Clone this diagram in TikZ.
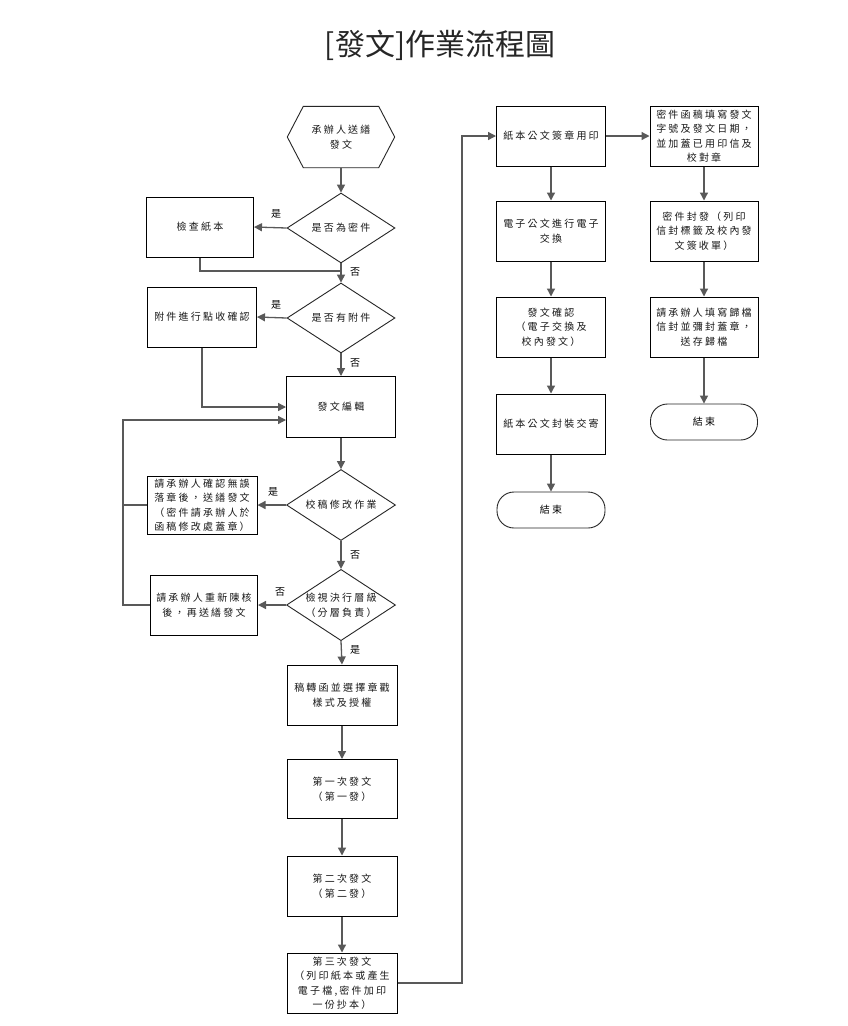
\documentclass[tikz,border=0pt]{standalone}
\usepackage{fontspec}
\usetikzlibrary{arrows.meta,shapes.geometric}
\newfontfamily\cjk[LetterSpace=22]{Noto Sans CJK TC}
\newfontfamily\cjklab{Noto Sans CJK TC}
\newfontfamily\titlefont{Noto Sans CJK TC}
\definecolor{conn}{HTML}{595959}
\tikzset{
  box/.style={draw=black, line width=1pt, minimum width=109pt, minimum height=60pt, inner sep=0pt, align=center, font=\cjk\fontsize{10}{14.5}\selectfont, text=black!90},
  dec/.style={diamond, draw=black!85, line width=0.9pt, minimum width=108pt, minimum height=70pt, inner sep=0pt, aspect=1.5, align=center, font=\cjk\fontsize{10}{14.5}\selectfont, text=black!90},
  term/.style={draw=black!85, line width=0.9pt, rounded corners=17pt, minimum width=108pt, minimum height=36pt, inner sep=0pt, font=\cjk\fontsize{10}{14.5}\selectfont},
  plain/.style={inner sep=0pt, minimum width=107pt, minimum height=61pt, align=center, font=\cjk\fontsize{10}{14.5}\selectfont, text=black!90},
  arr/.style={draw=conn, line width=1.3pt, -{Triangle[length=8pt,width=8pt]}},
  ln/.style={draw=conn, line width=1.3pt},
  lab/.style={font=\cjklab\fontsize{10}{12}\selectfont, inner sep=0pt}
}
\begin{document}
\begin{tikzpicture}[x=1pt,y=-1pt]
\useasboundingbox[fill=white] (0,0) rectangle (847,1026);
\node[font=\titlefont\fontsize{30}{33}\selectfont, text=black!85] (title) at (440,45) {[發文]作業流程圖};

% left column
\node[plain] (n1) at (341,137) {承辦人送繕\\發文};
\draw[black!85, line width=0.9pt] (n1.west) -- ([xshift=16pt]n1.north west) -- ([xshift=-16pt]n1.north east) -- (n1.east) -- ([xshift=-16pt]n1.south east) -- ([xshift=16pt]n1.south west) -- cycle;
\node[dec] (d1) at (341,228) {是否為密件};
\node[box, minimum width=107pt] (b1) at (200,227) {檢查紙本};
\node[dec] (d2) at (341,318) {是否有附件};
\node[box] (b2) at (202,317) {附件進行點收確認};
\node[box, minimum height=61pt] (b3) at (341,407) {發文編輯};
\node[dec, minimum width=109pt, minimum height=71pt] (d3) at (341,505) {校稿修改作業};
\node[box, minimum width=110pt, minimum height=58pt] (b4) at (202,505) {請承辦人確認無誤\\落章後，送繕發文\\（密件請承辦人於\\函稿修改處蓋章）};
\node[dec, minimum width=109pt, minimum height=69pt] (d4) at (341,605) {檢視決行層級\\（分層負責）};
\node[box, minimum width=107pt] (b5) at (204,605) {請承辦人重新陳核\\後，再送繕發文};
\node[box, minimum width=110pt] (b6) at (342,695) {稿轉函並選擇章戳\\樣式及授權};
\node[box, minimum width=110pt, minimum height=59pt] (b7) at (342,789) {第一次發文\\（第一發）};
\node[box, minimum width=110pt] (b8) at (342,886) {第二次發文\\（第二發）};
\node[box, minimum width=110pt] (b9) at (342,983) {第三次發文\\（列印紙本或產生\\電子檔,密件加印\\一份抄本）};

% middle column
\node[box] (m1) at (551,136) {紙本公文簽章用印};
\node[box] (m2) at (551,231) {電子公文進行電子\\交換};
\node[box] (m3) at (551,327) {發文確認\\（電子交換及\\校內發文）};
\node[box] (m4) at (551,424) {紙本公文封裝交寄};
\node[term] (m5) at (551,510) {結束};

% right column
\node[box, minimum width=108pt] (r1) at (704,136) {密件函稿填寫發文\\字號及發文日期，\\並加蓋已用印信及\\校對章};
\node[box, minimum width=108pt] (r2) at (704,231) {密件封發（列印\\信封標籤及校內發\\文簽收單）};
\node[box, minimum width=108pt] (r3) at (704,327) {請承辦人填寫歸檔\\信封並彌封蓋章，\\送存歸檔};
\node[term, minimum width=107pt] (r4) at (704,422) {結束};

% connectors left
\draw[arr] (n1.south) -- (d1.north);
\draw[arr] (d1.west) -- (b1.east);
\draw[arr] (d1.south) -- (d2.north);
\coordinate (j1) at (341,271);
\draw[ln] (b1.south) |- (j1);
\draw[arr] (d2.west) -- (b2.east);
\draw[arr] (d2.south) -- (b3.north);
\draw[arr] (b2.south) |- (b3.west);
\draw[arr] (b3.south) -- (d3.north);
\draw[arr] (d3.west) -- (b4.east);
\draw[arr] (d3.south) -- (d4.north);
\draw[arr] (d4.west) -- (b5.east);
\draw[arr] (d4.south) -- (b6.north);
\coordinate (lp) at (123,505);
\draw[ln] (b4.west) -- (lp);
\draw[arr] (b5.west) -| (lp) |- ([yshift=-13pt]b3.west);
\draw[arr] (b6.south) -- (b7.north);
\draw[arr] (b7.south) -- (b8.north);
\draw[arr] (b8.south) -- (b9.north);
\coordinate (rt) at (462,983);
\draw[arr] (b9.east) -- (rt) |- (m1.west);

% connectors middle/right
\draw[arr] (m1.south) -- (m2.north);
\draw[arr] (m2.south) -- (m3.north);
\draw[arr] (m3.south) -- (m4.north);
\draw[arr] (m4.south) -- (m5.north);
\draw[arr] (m1.east) -- (r1.west);
\draw[arr] (r1.south) -- (r2.north);
\draw[arr] (r2.south) -- (r3.north);
\draw[arr] (r3.south) -- (r4.north);

% labels
\node[lab] (l1) at (276,214) {是};
\node[lab] (l2) at (355,272) {否};
\node[lab] (l3) at (276,305) {是};
\node[lab] (l4) at (355,363) {否};
\node[lab] (l5) at (273,492) {是};
\node[lab] (l6) at (355,555) {否};
\node[lab] (l7) at (280,592) {否};
\node[lab] (l8) at (355,650) {是};
\end{tikzpicture}
\end{document}
